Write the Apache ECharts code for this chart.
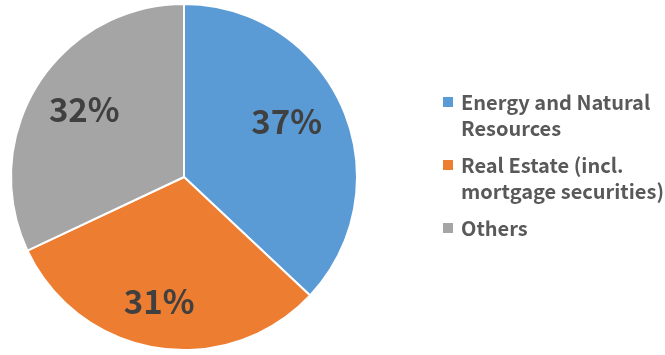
<!DOCTYPE html>
<html>
<head>
<meta charset="utf-8">
<script src="https://cdn.jsdelivr.net/npm/echarts@6/dist/echarts.min.js"></script>
<style>
  html, body { margin: 0; padding: 0; background: #fff; }
  #main { width: 665px; height: 355px; }
</style>
</head>
<body>
<div id="main"></div>
<script>
var names = ['Energy and Natural Resources', 'Real Estate (incl. mortgage securities)', 'Others'];
var legendLines = [['Energy and Natural', 'Resources'], ['Real Estate (incl.', 'mortgage securities)'], ['Others']];
var values = [37, 31, 32];
var colors = ['#5B9BD5', '#ED7D31', '#A5A5A5'];
// small nudges of the percent labels, like the original layout
var labelOffsets = [[-8, -8], [-6, 5], [2, -3]];

var font = '"Noto Sans CJK KR", "Noto Sans", sans-serif';
var myChart = echarts.init(document.getElementById('main'));

var pieData = [];
for (var i = 0; i < names.length; i++) {
    pieData.push({ name: names[i], value: values[i], itemStyle: { color: colors[i] } });
}

// rich styles for the legend: a coloured square drawn in the text
var rich = {
    t: { fontFamily: font, fontWeight: 'bold', fontSize: 20, color: '#595959', lineHeight: 26 },
    sp: { width: 18, height: 10 }
};
for (var i = 0; i < colors.length; i++) {
    rich['b' + i] = { width: 10, height: 10, backgroundColor: colors[i], lineHeight: 26 };
    rich['g' + i] = { width: 8 };
}

// ring used only to place the percent labels
var labelData = [];
for (var i = 0; i < names.length; i++) {
    labelData.push({
        name: names[i],
        value: values[i],
        itemStyle: { color: 'rgba(0,0,0,0)' },
        label: { offset: labelOffsets[i] }
    });
}

var option = {
    animation: false,
    color: colors,
    legend: {
        orient: 'vertical',
        left: 433,
        top: 87,
        icon: 'none',
        itemWidth: 0,
        itemHeight: 10,
        itemGap: 17,
        data: names,
        selectedMode: false,
        textStyle: { rich: rich },
        formatter: function (name) {
            var idx = names.indexOf(name);
            var lines = legendLines[idx];
            var s = '{b' + idx + '|}{g' + idx + '|}{t|' + lines[0] + '}';
            for (var k = 1; k < lines.length; k++) {
                s += '\n{sp|}{t|' + lines[k] + '}';
            }
            return s;
        }
    },
    series: [
        {
            type: 'pie',
            center: [184, 177],
            radius: [0, 173],
            startAngle: 90,
            clockwise: true,
            label: { show: false },
            labelLine: { show: false },
            itemStyle: { borderColor: '#fff', borderWidth: 2 },
            data: pieData
        },
        {
            type: 'pie',
            center: [184, 177],
            radius: [62, 173],
            startAngle: 90,
            clockwise: true,
            silent: true,
            itemStyle: { borderWidth: 0 },
            label: {
                show: true,
                position: 'inside',
                formatter: '{c}%',
                fontFamily: font,
                fontWeight: 'bold',
                fontSize: 33,
                color: '#404040'
            },
            labelLine: { show: false },
            data: labelData
        }
    ]
};

myChart.setOption(option);
</script>
</body>
</html>
